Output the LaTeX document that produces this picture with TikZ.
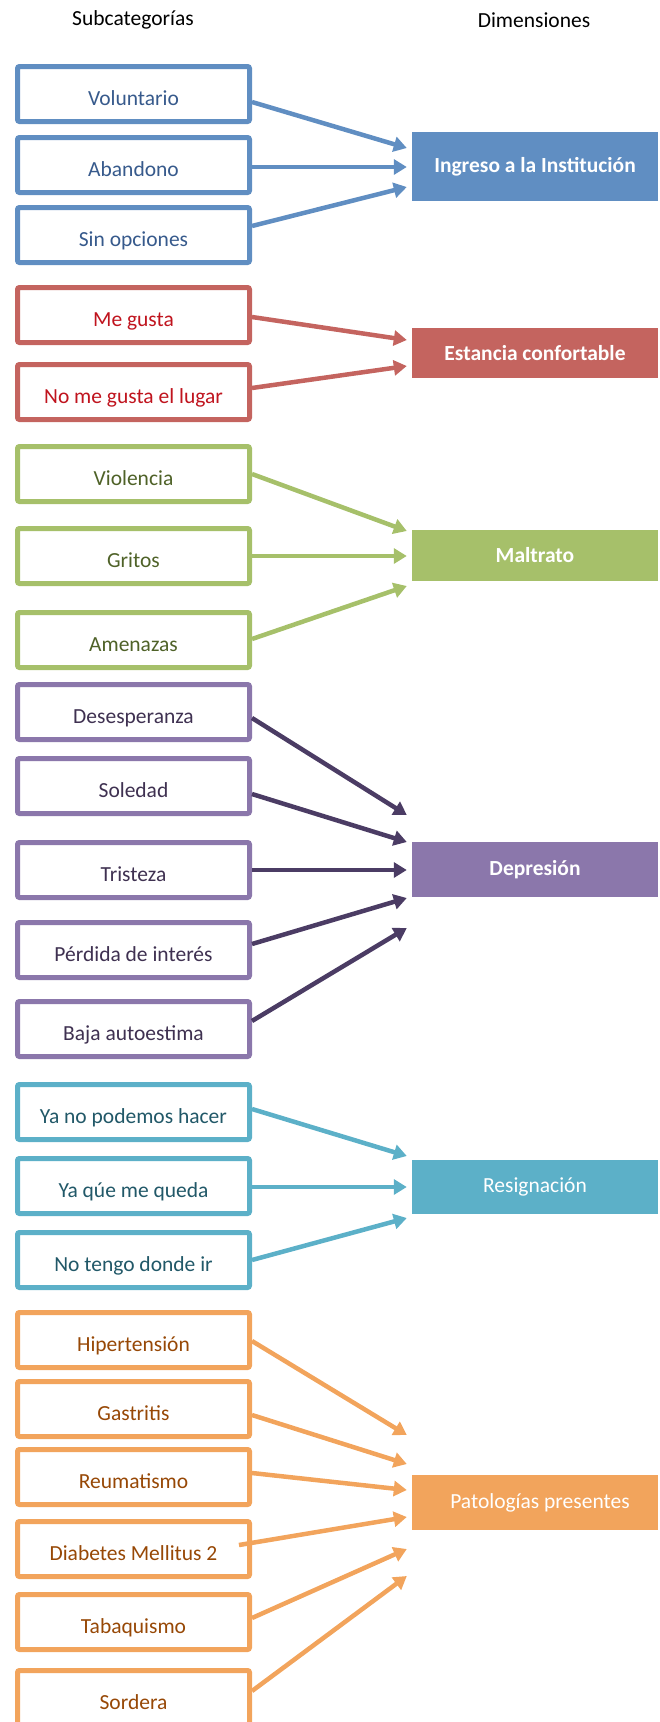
\documentclass[tikz,border=0pt]{standalone}
\usepackage{fontspec}
\setmainfont{Carlito}
\usetikzlibrary{arrows.meta,calc}

\definecolor{azul}{RGB}{96,142,194}
\definecolor{azultxt}{RGB}{55,90,140}
\definecolor{rojo}{RGB}{196,100,95}
\definecolor{rojotxt}{RGB}{192,20,30}
\definecolor{verde}{RGB}{166,192,106}
\definecolor{verdetxt}{RGB}{79,98,40}
\definecolor{morado}{RGB}{139,119,171}
\definecolor{moradotxt}{RGB}{63,49,81}
\definecolor{moradoflecha}{RGB}{75,60,100}
\definecolor{turquesa}{RGB}{92,176,200}
\definecolor{turquesatxt}{RGB}{33,88,104}
\definecolor{naranja}{RGB}{242,164,92}
\definecolor{naranjatxt}{RGB}{151,72,6}

\begin{document}
\begin{tikzpicture}[x=1pt, y=-1pt,
                    sub/.style   ={rectangle, draw, line width=5pt, rounded corners=2pt, fill=white, minimum width=232pt, minimum height=55pt, inner sep=0pt, text height=23pt, text depth=0pt, font=\fontsize{21.5}{24}\selectfont},
                    dim/.style   ={rectangle, minimum width=246pt, inner sep=0pt, text=white, font=\fontsize{21.5}{24}\selectfont},
                    flecha/.style={-{Triangle[length=13pt,width=15pt]}, line width=4.5pt},
                    head/.style  ={font=\fontsize{21.5}{24}\selectfont}]

      \useasboundingbox (0,0) rectangle (660,1722);
      \node[head] at(133, 20) (hsub) {Subcategorías};
      \node[head] at(534, 20) (hdim) {Dimensiones};

      % Ingreso a la Institucion
      \node[sub, draw=azul, text=azultxt] at(133.5,  94) (vol)   {Voluntario};
      \node[sub, draw=azul, text=azultxt] at(133.5, 165) (aba)   {Abandono};
      \node[sub, draw=azul, text=azultxt] at(133.5, 235) (sinop) {Sin opciones};
      \node[dim, fill=azul, minimum height=69pt, font=\fontsize{21.5}{24}\selectfont\bfseries] at(535, 166.5) (ingreso) {Ingreso a la Institución};
      \draw[flecha, azul] ($(vol.east)  +(0, 8)$) -- ($(ingreso.west)+(-5,-18.5)$);
      \draw[flecha, azul] ($(aba.east)  +(0, 2)$) -- ($(ingreso.west)+(-5, 0.5)$);
      \draw[flecha, azul] ($(sinop.east)+(0,-9)$) -- ($(ingreso.west)+(-5, 20.5)$);

      % Estancia confortable
      \node[sub, draw=rojo, text=rojotxt] at(133.5, 315) (megus)   {Me gusta};
      \node[sub, draw=rojo, text=rojotxt] at(133.5, 392) (nomegus) {No me gusta el lugar};
      \node[dim, fill=rojo, minimum height=50pt, font=\fontsize{21.5}{24}\selectfont\bfseries] at(535, 353) (estancia) {Estancia confortable};
      \draw[flecha, rojo] ($(megus.east)  +(0, 2)$) -- ($(estancia.west)+(-5,-13)$);
      \draw[flecha, rojo] ($(nomegus.east)+(0,-4)$) -- ($(estancia.west)+(-5, 13)$);

      % Maltrato
      \node[sub, draw=verde, text=verdetxt] at(133.5, 474) (viol) {Violencia};
      \node[sub, draw=verde, text=verdetxt] at(133.5, 556) (grit) {Gritos};
      \node[sub, draw=verde, text=verdetxt] at(133.5, 640) (amen) {Amenazas};
      \node[dim, fill=verde, minimum height=51pt, font=\fontsize{21.5}{24}\selectfont\bfseries] at(535, 555.5) (maltrato) {Maltrato};
      \draw[flecha, verde] (viol.east)             -- ($(maltrato.west)+(-5,-24.5)$);
      \draw[flecha, verde] (grit.east)             -- ($(maltrato.west)+(-5, 0.5)$);
      \draw[flecha, verde] ($(amen.east)+(0,-1)$)  -- ($(maltrato.west)+(-5, 30.5)$);

      % Depresion
      \node[sub, draw=morado, text=moradotxt] at(133.5,  712) (deses) {Desesperanza};
      \node[sub, draw=morado, text=moradotxt] at(133.5,  786) (soled) {Soledad};
      \node[sub, draw=morado, text=moradotxt] at(133.5,  870) (trist) {Tristeza};
      \node[sub, draw=morado, text=moradotxt] at(133.5,  950) (perd)  {Pérdida de interés};
      \node[sub, draw=morado, text=moradotxt] at(133.5, 1029) (baja)  {Baja autoestima};
      \node[dim, fill=morado, minimum height=55pt, font=\fontsize{21.5}{24}\selectfont\bfseries] at(535, 869.5) (depresion) {Depresión};
      \draw[flecha, moradoflecha] ($(deses.east)+(0, 6)$) -- ($(depresion.west)+(-5,-54.5)$);
      \draw[flecha, moradoflecha] ($(soled.east)+(0, 8)$) -- ($(depresion.west)+(-5,-27.5)$);
      \draw[flecha, moradoflecha] (trist.east)            -- ($(depresion.west)+(-5, 0.5)$);
      \draw[flecha, moradoflecha] ($(perd.east) +(0,-6)$) -- ($(depresion.west)+(-5, 28.5)$);
      \draw[flecha, moradoflecha] ($(baja.east) +(0,-8)$) -- ($(depresion.west)+(-5, 58.5)$);

      % Resignacion
      \node[sub, draw=turquesa, text=turquesatxt] at(133.5, 1112) (yano)    {Ya no podemos hacer};
      \node[sub, draw=turquesa, text=turquesatxt] at(133.5, 1186) (yaque)   {Ya qúe me queda};
      \node[sub, draw=turquesa, text=turquesatxt] at(133.5, 1260) (notengo) {No tengo donde ir};
      \node[dim, fill=turquesa, minimum height=54pt] at(535, 1187) (resig) {Resignación};
      \draw[flecha, turquesa] ($(yano.east)   +(0,-3)$) -- ($(resig.west)+(-5,-31)$);
      \draw[flecha, turquesa] ($(yaque.east)  +(0, 1)$) -- ($(resig.west)+(-5, 0)$);
      \draw[flecha, turquesa] ($(notengo.east)+(0, 0)$) -- ($(resig.west)+(-5, 31)$);

      % Patologias presentes
      \node[sub, draw=naranja, text=naranjatxt] at(133.5, 1340) (hiper) {Hipertensión};
      \node[sub, draw=naranja, text=naranjatxt] at(133.5, 1409) (gastr) {Gastritis};
      \node[sub, draw=naranja, text=naranjatxt] at(133.5, 1477) (reuma) {Reumatismo};
      \node[sub, draw=naranja, text=naranjatxt] at(133.5, 1549) (diab)  {Diabetes Mellitus 2};
      \node[sub, draw=naranja, text=naranjatxt] at(133.5, 1622) (tabaq) {Tabaquismo};
      \node[sub, draw=naranja, text=naranjatxt] at(133.5, 1698) (sord)  {Sordera};
      \node[dim, fill=naranja, minimum height=55pt] at(535, 1502.5) (patol) {\hspace{10pt}Patologías presentes};
      \draw[flecha, naranja] ($(hiper.east)+(0, 1)$)    -- ($(patol.west)+(-5,-67.5)$);
      \draw[flecha, naranja] ($(gastr.east)+(0, 6)$)    -- ($(patol.west)+(-5,-38.5)$);
      \draw[flecha, naranja] ($(reuma.east)+(0,-4)$)    -- ($(patol.west)+(-5,-12.5)$);
      \draw[flecha, naranja] ($(diab.east) +(-13,-4)$)  -- ($(patol.west)+(-5, 14.5)$);
      \draw[flecha, naranja] ($(tabaq.east)+(0,-4)$)    -- ($(patol.west)+(-5, 46.5)$);
      \draw[flecha, naranja] ($(sord.east) +(0,-7)$)    -- ($(patol.west)+(-5, 73.5)$);
    \end{tikzpicture}
\end{document}
